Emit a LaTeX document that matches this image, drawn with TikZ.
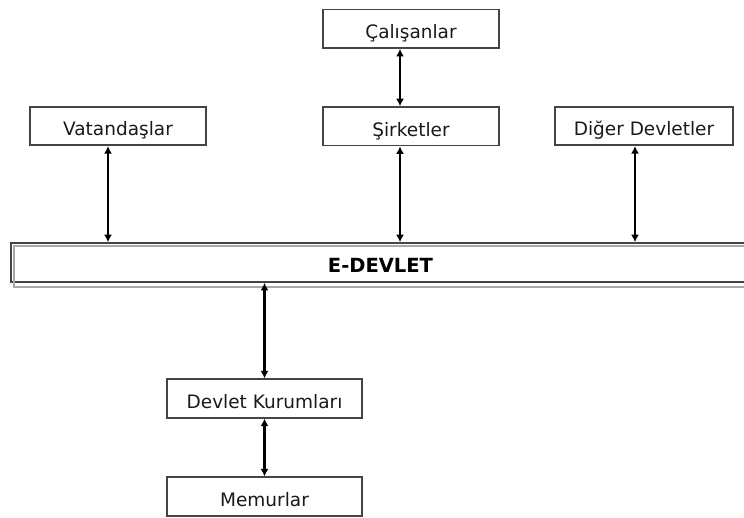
\documentclass[tikz,border=0pt]{standalone}
\usepackage{fontspec}
\setmainfont{DejaVu Sans}
\usetikzlibrary{arrows.meta,calc}
\definecolor{frame}{HTML}{444444}
\definecolor{shadowgray}{HTML}{A8A8A8}
\definecolor{ink}{HTML}{1A1A1A}
\tikzset{
  box/.style={draw=frame, line width=1.7pt, rectangle, inner sep=0pt,
    minimum height=38.5pt, text=ink, text height=19.5pt, text depth=0pt,
    font=\fontsize{18.5}{20}\selectfont},
  hub/.style={draw=frame, line width=1.7pt, rectangle, inner sep=0pt,
    minimum height=39pt, minimum width=739pt, text=black,
    text height=20.2pt, text depth=0pt,
    font=\fontsize{19.5}{21}\bfseries\selectfont},
  hubshadow/.style={draw=shadowgray, line width=1.7pt},
  link/.style={draw=black, line width=2.8pt,
    {Latex[length=7.5pt,width=8pt]}-{Latex[length=7.5pt,width=8pt]}}
}
\begin{document}
\begin{tikzpicture}[x=1pt,y=-1pt]
  \useasboundingbox (0,0) rectangle (744,518);
  \fill[white] (0,0) rectangle (744,518);
  \begin{scope}
    \clip (0,0) rectangle (744,518);
    % top row of partners
    \node[box, minimum width=176pt] (cal) at (411,28.8) {Çalışanlar};
    \node[box, minimum width=176pt] (vat) at (118,126) {Vatandaşlar};
    \node[box, minimum width=176pt] (sir) at (411,126.3) {Şirketler};
    \node[box, minimum width=178pt] (dig) at (644,126) {Diğer Devletler};
    % central e-government bar with its offset shadow frame
    \node[hub] (edev) at (380.5,262.5) {E-DEVLET};
    \draw[hubshadow]
      ([shift={(4,4)}]edev.north west) rectangle ([shift={(4,4)}]edev.south east);
    % public side
    \node[box, minimum width=195pt] (kur) at (264.5,398.5) {Devlet Kurumları};
    \node[box, minimum width=195pt] (mem) at (264.5,496.5) {Memurlar};
    % two-way links
    \draw[link] ([xshift=-11pt]cal.south) -- ([xshift=-11pt]sir.north);
    \draw[link] ([xshift=-10pt]vat.south) -- ([xshift=-10pt]vat.south |- edev.north);
    \draw[link] ([xshift=-11pt]sir.south) -- ([xshift=-11pt]sir.south |- edev.north);
    \draw[link] ([xshift=-9pt]dig.south) -- ([xshift=-9pt]dig.south |- edev.north);
    \draw[link] (kur.north |- edev.south) -- (kur.north);
    \draw[link] (kur.south) -- (mem.north);
  \end{scope}
\end{tikzpicture}
\end{document}
